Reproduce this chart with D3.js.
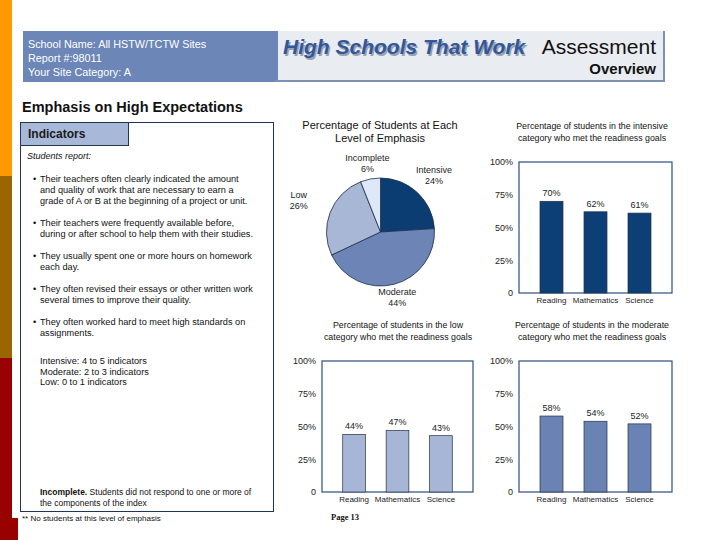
<!DOCTYPE html>
<html>
<head>
<meta charset="utf-8">
<script src="https://cdn.jsdelivr.net/npm/d3@7"></script>
<style>
  body { margin: 0; background: #fff; }
  svg { display: block; font-family: "Liberation Sans", Arial, sans-serif; }
</style>
</head>
<body>
<script>
  // ---- data ----
  const headerLines = ['School Name: All HSTW/TCTW Sites', 'Report #:98011', 'Your Site Category: A'];
  const indicatorBullets = [
    ['Their teachers often clearly indicated the amount', 'and quality of work that are necessary to earn a', 'grade of A or B at the beginning of a project or unit.'],
    ['Their teachers were frequently available before,', 'during or after school to help them with their studies.'],
    ['They usually spent one or more hours on homework', 'each day.'],
    ['They often revised their essays or other written work', 'several times to improve their quality.'],
    ['They often worked hard to meet high standards on', 'assignments.']
  ];
  const levelLines = ['Intensive:  4 to 5 indicators', 'Moderate:  2 to 3 indicators', 'Low:  0 to 1 indicators'];

  const pieLevels = ['Intensive', 'Moderate', 'Low', 'Incomplete'];
  const pieValues = [24, 44, 26, 6];

  const subjects = ['Reading', 'Mathematics', 'Science'];
  const intensiveValues = [70, 62, 61];
  const lowValues = [44, 47, 43];
  const moderateValues = [58, 54, 52];
  const yTicks = [0, 25, 50, 75, 100];

  // ---- layout / styles ----
  const W = 720, H = 540;
  const pieColors = ['#0b3d72', '#6c84b6', '#a9b7d7', '#dfe8f6'];
  const pieLabelR = [78, 67, 88, 70];

  const svg = d3.select('body').append('svg')
    .attr('width', W).attr('height', H);

  // left colour strip
  svg.append('rect').attr('x', 0).attr('y', 0).attr('width', 12).attr('height', 176).attr('fill', '#ff9900');
  svg.append('rect').attr('x', 0).attr('y', 176).attr('width', 12).attr('height', 182).attr('fill', '#996600');
  svg.append('rect').attr('x', 0).attr('y', 358).attr('width', 12).attr('height', 182).attr('fill', '#990000');
  svg.append('rect').attr('x', 0).attr('y', 518).attr('width', 18).attr('height', 22).attr('fill', '#990000');

  // header boxes
  svg.append('rect').attr('x', 23).attr('y', 31).attr('width', 252).attr('height', 51).attr('fill', '#6b86b7');
  svg.append('rect').attr('x', 275).attr('y', 31).attr('width', 390).attr('height', 51).attr('fill', '#e9ecf0');
  svg.append('rect').attr('x', 275).attr('y', 31).attr('width', 3).attr('height', 51).attr('fill', '#6b86b7');
  svg.append('rect').attr('x', 663).attr('y', 31).attr('width', 2).attr('height', 51).attr('fill', '#7d90b3');
  svg.append('rect').attr('x', 275).attr('y', 80).attr('width', 390).attr('height', 2).attr('fill', '#7d90b3');

  svg.append('g').selectAll('text').data(headerLines).join('text')
    .attr('x', 28).attr('y', (d, i) => 48 + i * 14)
    .attr('fill', '#fff').attr('font-size', 10.8).text(d => d);

  svg.append('text').attr('x', 284.5).attr('y', 55.5)
    .attr('font-size', 21).attr('font-weight', 'bold').attr('font-style', 'italic')
    .attr('fill', '#9aa3b0').text('High Schools That Work');
  svg.append('text').attr('x', 283).attr('y', 54)
    .attr('font-size', 21).attr('font-weight', 'bold').attr('font-style', 'italic')
    .attr('fill', '#33579a').text('High Schools That Work');
  svg.append('text').attr('x', 656).attr('y', 54).attr('text-anchor', 'end')
    .attr('font-size', 21).attr('fill', '#111').text('Assessment');
  svg.append('text').attr('x', 656).attr('y', 74).attr('text-anchor', 'end')
    .attr('font-size', 15).attr('font-weight', 'bold').attr('fill', '#111').text('Overview');

  svg.append('text').attr('x', 22).attr('y', 112)
    .attr('font-size', 14.5).attr('font-weight', 'bold').attr('fill', '#111')
    .text('Emphasis on High Expectations');

  // indicators panel
  svg.append('rect').attr('x', 20.5).attr('y', 122.5).attr('width', 253).attr('height', 389)
    .attr('fill', '#fff').attr('stroke', '#1f3656').attr('stroke-width', 1);
  svg.append('rect').attr('x', 20.5).attr('y', 122.5).attr('width', 108).attr('height', 23)
    .attr('fill', '#a8b8d9').attr('stroke', '#1f3656').attr('stroke-width', 1);
  svg.append('text').attr('x', 28).attr('y', 138).attr('font-size', 12).attr('font-weight', 'bold')
    .attr('fill', '#1a1a1a').text('Indicators');
  svg.append('text').attr('x', 27).attr('y', 159).attr('font-size', 9).attr('font-style', 'italic')
    .attr('fill', '#111').text('Students report:');

  const bulletTop = [182, 226, 259, 292, 325];
  const bullets = svg.append('g').attr('font-size', 9.2).attr('fill', '#111');
  indicatorBullets.forEach((lines, i) => {
    bullets.append('text').attr('x', 33).attr('y', bulletTop[i]).text('•');
    lines.forEach((l, j) => {
      bullets.append('text').attr('x', 40).attr('y', bulletTop[i] + j * 11).text(l);
    });
  });
  svg.append('g').attr('font-size', 9.2).attr('fill', '#111')
    .selectAll('text').data(levelLines).join('text')
    .attr('x', 40).attr('y', (d, i) => 364 + i * 10.5).text(d => d);

  const inc = svg.append('text').attr('x', 40).attr('y', 495).attr('font-size', 8.5).attr('fill', '#111');
  inc.append('tspan').attr('font-weight', 'bold').text('Incomplete.');
  inc.append('tspan').text(' Students did not respond to one or more of');
  svg.append('text').attr('x', 40).attr('y', 506).attr('font-size', 8.5).attr('fill', '#111')
    .text('the components of the index');
  svg.append('text').attr('x', 22).attr('y', 521).attr('font-size', 8).attr('fill', '#111')
    .text('** No students at this level of emphasis');

  // ---- pie ----
  const pieG = svg.append('g').attr('transform', 'translate(380.5,232)');
  svg.append('g').attr('font-size', 11).attr('fill', '#111').attr('text-anchor', 'middle')
    .selectAll('text').data(['Percentage of Students at Each', 'Level of Emphasis']).join('text')
    .attr('x', 380).attr('y', (d, i) => 129 + i * 13).text(d => d);

  const arcs = d3.pie().sort(null)(pieValues);
  const arc = d3.arc().innerRadius(0).outerRadius(54);
  pieG.selectAll('path').data(arcs).join('path')
    .attr('d', arc)
    .attr('fill', (d, i) => pieColors[i])
    .attr('stroke', '#1b2c48').attr('stroke-width', 0.8);

  const pieLab = pieG.selectAll('g.lab').data(arcs).join('g').attr('class', 'lab')
    .attr('transform', (d, i) => {
      const a = (d.startAngle + d.endAngle) / 2;
      return `translate(${Math.sin(a) * pieLabelR[i]},${-Math.cos(a) * pieLabelR[i]})`;
    })
    .attr('font-size', 9).attr('fill', '#222').attr('text-anchor', 'middle');
  pieLab.append('text').attr('y', -2).text((d, i) => pieLevels[i]);
  pieLab.append('text').attr('y', 9).text(d => d.data + '%');

  // ---- bar charts ----
  const barChart = (opt) => {
    const g = svg.append('g');
    const x = d3.scaleBand().domain(subjects)
      .range([opt.x0, opt.x1]).paddingInner(0.477).paddingOuter(0.477);
    const y = d3.scaleLinear().domain([0, 100]).range([opt.y1, opt.y0]);

    g.append('g').attr('font-size', 8.8).attr('fill', '#111').attr('text-anchor', 'middle')
      .selectAll('text').data(opt.title).join('text')
      .attr('x', opt.tx).attr('y', (d, i) => opt.ty + i * 11.5).text(d => d);

    g.append('rect').attr('x', opt.x0).attr('y', opt.y0)
      .attr('width', opt.x1 - opt.x0).attr('height', opt.y1 - opt.y0)
      .attr('fill', '#fff').attr('stroke', '#2d4f7e').attr('stroke-width', 1.2);

    g.selectAll('rect.bar').data(opt.values).join('rect').attr('class', 'bar')
      .attr('x', (d, i) => x(subjects[i]))
      .attr('y', d => y(d))
      .attr('width', x.bandwidth())
      .attr('height', d => y(0) - y(d))
      .attr('fill', opt.color)
      .attr('stroke', '#26324a').attr('stroke-width', 0.7);

    g.selectAll('text.val').data(opt.values).join('text').attr('class', 'val')
      .attr('x', (d, i) => x(subjects[i]) + x.bandwidth() / 2)
      .attr('y', d => y(d) - 5)
      .attr('text-anchor', 'middle').attr('font-size', 9).attr('fill', '#222')
      .text(d => d + '%');

    const ya = g.append('g').attr('transform', `translate(${opt.x0},0)`)
      .call(d3.axisLeft(y).tickValues(yTicks).tickSize(0).tickPadding(6)
        .tickFormat(d => d === 0 ? '0' : d + '%'));
    ya.select('.domain').remove();
    ya.selectAll('text').attr('font-size', 9).attr('fill', '#222')
      .attr('font-family', '"Liberation Sans", Arial, sans-serif');

    const xa = g.append('g').attr('transform', `translate(0,${opt.y1})`)
      .call(d3.axisBottom(x).tickSize(0).tickPadding(4));
    xa.select('.domain').remove();
    xa.selectAll('text').attr('font-size', 8).attr('fill', '#222')
      .attr('font-family', '"Liberation Sans Narrow", "Liberation Sans", Arial, sans-serif');
  };

  barChart({
    values: intensiveValues, color: '#0b3f75',
    x0: 519, x1: 672, y0: 162, y1: 293,
    tx: 592, ty: 129,
    title: ['Percentage of students in the intensive', 'category who met the readiness goals']
  });
  barChart({
    values: lowValues, color: '#a7b5d6',
    x0: 322, x1: 473, y0: 361, y1: 492,
    tx: 398, ty: 328,
    title: ['Percentage of students in the low', 'category who met the readiness goals']
  });
  barChart({
    values: moderateValues, color: '#6a83b4',
    x0: 519, x1: 672, y0: 361, y1: 492,
    tx: 592, ty: 328,
    title: ['Percentage of students in the moderate', 'category who met the readiness goals']
  });

  svg.append('text').attr('x', 331).attr('y', 520)
    .attr('font-family', '"Liberation Serif", serif').attr('font-weight', 'bold')
    .attr('font-size', 8.5).attr('fill', '#111').text('Page 13');
</script>
</body>
</html>
